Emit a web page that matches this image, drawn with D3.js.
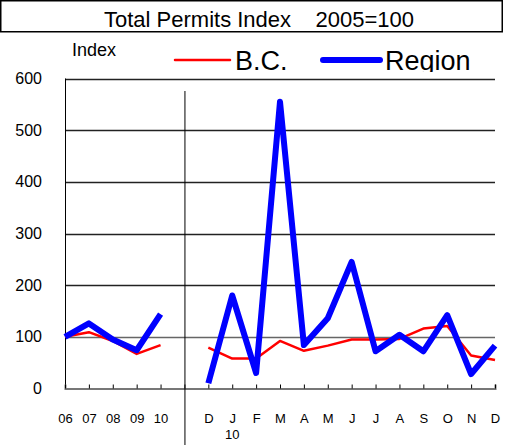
<!DOCTYPE html>
<html>
<head>
<meta charset="utf-8">
<script src="https://cdn.jsdelivr.net/npm/d3@7"></script>
<style>
  body { margin: 0; background: #fff; }
  svg { display: block; font-family: "Liberation Sans", Arial, sans-serif; }
</style>
</head>
<body>
<svg id="chart" width="507" height="445"></svg>
<script>
// slots along the x axis: 5 years, an empty gap, then 13 months
const slotLabels = ["06", "07", "08", "09", "10", "", "D", "J", "F", "M", "A", "M", "J", "J", "A", "S", "O", "N", "D"];
const yearSlots = [0, 1, 2, 3, 4];
const monthSlots = [6, 7, 8, 9, 10, 11, 12, 13, 14, 15, 16, 17, 18];

// annual index values
const bcYears = [100, 109, 92, 67, 84];
const regionYears = [100, 126, 95, 74, 144];
// monthly index values, Dec 09 .. Dec 10
const bcMonths = [79, 58, 58, 92, 73, 83, 95, 95, 96, 116, 121, 64, 55];
const regionMonths = [10, 180, 30, 555, 84, 136, 245, 72, 104, 72, 142, 28, 83];

const yTicks = [0, 100, 200, 300, 400, 500, 600];

const svg = d3.select("#chart");
const plotLeft = 65, plotRight = 495, plotTop = 78.5, plotBottom = 388.5;

const x = d3.scalePoint()
  .domain(d3.range(slotLabels.length))
  .range([plotLeft, plotRight]);
const y = d3.scaleLinear().domain([0, 600]).range([plotBottom, plotTop]);

// title box
svg.append("rect")
  .attr("x", 0.75).attr("y", 0.75)
  .attr("width", 501.5).attr("height", 31)
  .attr("fill", "none").attr("stroke", "#000").attr("stroke-width", 1.5);
svg.append("text")
  .attr("x", 259).attr("y", 27)
  .attr("text-anchor", "middle")
  .attr("font-size", 22)
  .style("white-space", "pre")
  .text("Total Permits Index    2005=100");

// gridlines
svg.append("g")
  .selectAll("line")
  .data(yTicks.filter((d) => d > 0))
  .join("line")
  .attr("x1", plotLeft).attr("x2", plotRight)
  .attr("y1", (d) => Math.round(y(d)) + 0.5)
  .attr("y2", (d) => Math.round(y(d)) + 0.5)
  .attr("stroke", (d) => (d === 100 ? "#666" : "#222"))
  .attr("stroke-width", 1.3);

// y labels
const yAxis = svg.append("g")
  .attr("transform", `translate(${plotLeft},0)`)
  .call(d3.axisLeft(y).tickValues(yTicks).tickSize(0).tickPadding(23));
yAxis.select(".domain").remove();
yAxis.selectAll("text").attr("font-size", 16).attr("fill", "#000").attr("font-family", null);

// left axis line
svg.append("line")
  .attr("x1", plotLeft + 0.5).attr("x2", plotLeft + 0.5)
  .attr("y1", plotTop).attr("y2", plotBottom)
  .attr("stroke", "#000");

// x axis
const xAxis = svg.append("g")
  .attr("transform", `translate(0,${plotBottom})`)
  .call(d3.axisBottom(x).tickSize(-4).tickPadding(25).tickFormat((i) => slotLabels[i]));
xAxis.select(".domain").attr("stroke", "#777").attr("stroke-width", 2);
xAxis.selectAll(".tick line").attr("stroke", "#000");
xAxis.selectAll("text").attr("font-size", 13).attr("fill", "#000").attr("font-family", null);
svg.append("text")
  .attr("x", x(7)).attr("y", 439)
  .attr("text-anchor", "middle")
  .attr("font-size", 13)
  .text("10");

// divider between annual and monthly parts
svg.append("line")
  .attr("x1", x(5) + 0.5).attr("x2", x(5) + 0.5)
  .attr("y1", 91).attr("y2", 445)
  .attr("stroke", "#000");

const line = d3.line()
  .x((d) => x(d[0]))
  .y((d) => y(d[1]));

function drawSeries(slots, values, color, width) {
  svg.append("path")
    .datum(slots.map((s, i) => [s, values[i]]))
    .attr("d", line)
    .attr("fill", "none")
    .attr("stroke", color)
    .attr("stroke-width", width)
    .attr("stroke-linejoin", "round");
}
drawSeries(yearSlots, bcYears, "#ff0000", 2.5);
drawSeries(monthSlots, bcMonths, "#ff0000", 2.5);
drawSeries(yearSlots, regionYears, "#0000ff", 6);
drawSeries(monthSlots, regionMonths, "#0000ff", 6);

// legend
svg.append("text")
  .attr("x", 72).attr("y", 56)
  .attr("font-size", 18)
  .text("Index");

svg.append("clipPath").attr("id", "legend-clip")
  .append("rect").attr("x", 0).attr("y", 33).attr("width", 507).attr("height", 39);
const legend = svg.append("g").attr("clip-path", "url(#legend-clip)");
const legendItems = [
  { name: "B.C.", color: "#ff0000", width: 2.5, x0: 175, x1: 230 },
  { name: "Region", color: "#0000ff", width: 6, x0: 323, x1: 380 },
];
legendItems.forEach((d) => {
  legend.append("line")
    .attr("x1", d.x0).attr("x2", d.x1)
    .attr("y1", 60).attr("y2", 60)
    .attr("stroke", d.color)
    .attr("stroke-width", d.width)
    .attr("stroke-linecap", "round");
  legend.append("text")
    .attr("x", d.x1 + 5).attr("y", 70)
    .attr("font-size", 27)
    .text(d.name);
});
</script>
</body>
</html>
